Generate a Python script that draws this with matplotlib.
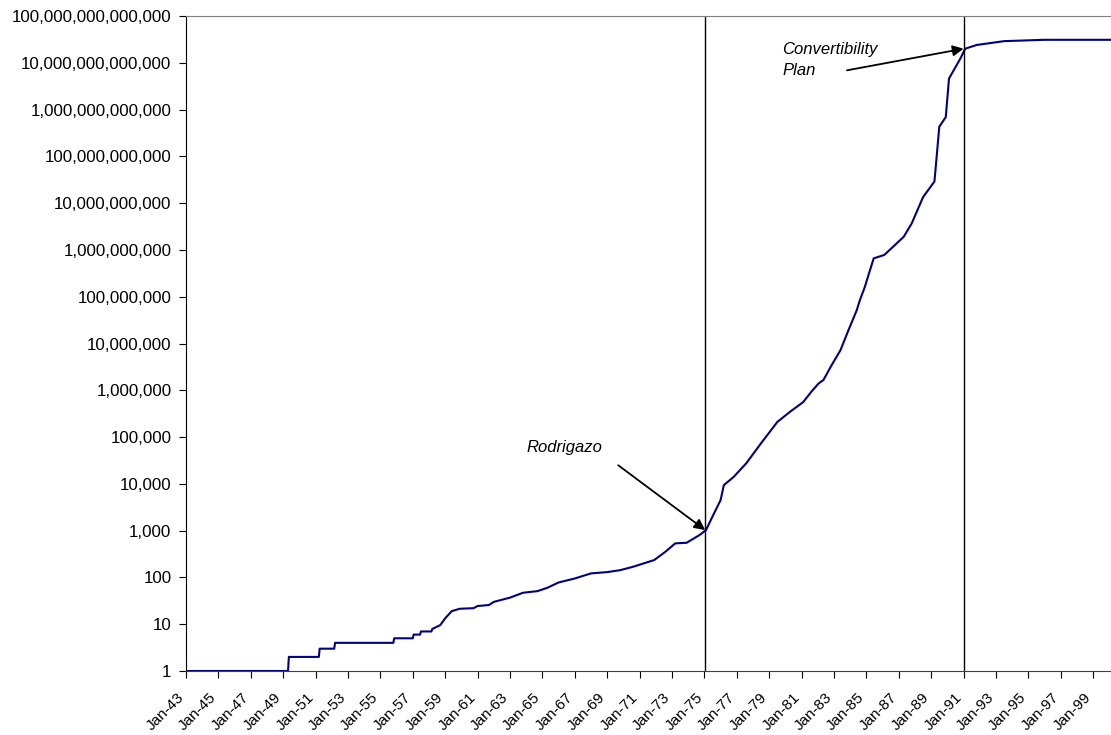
import matplotlib
matplotlib.use("Agg")
import matplotlib.pyplot as plt
from matplotlib.ticker import FixedLocator, FuncFormatter, NullLocator
from matplotlib.transforms import ScaledTranslation

plt.rcParams['font.family'] = ['Liberation Sans', 'DejaVu Sans']

# Price index (decimal year, value)
years = [1943.0, 1949.3, 1949.35, 1951.2, 1951.25, 1952.15, 1952.2, 1955.8, 1955.85,
         1957.0, 1957.05, 1957.45, 1957.5, 1958.15, 1958.2, 1958.7, 1959.0, 1959.4,
         1959.9, 1960.75, 1961.0, 1961.7, 1962.0, 1963.0, 1963.8, 1964.7, 1965.3,
         1966.0, 1967.0, 1968.0, 1969.0, 1969.8, 1970.6, 1971.9, 1972.6, 1973.2,
         1973.9, 1974.7, 1975.1, 1975.5, 1976.0, 1976.2, 1976.8, 1977.6, 1978.5,
         1979.5, 1980.3, 1981.1, 1981.6, 1982.05, 1982.35, 1982.8, 1983.4, 1983.9,
         1984.4, 1984.6, 1984.9, 1985.1, 1985.45, 1986.1, 1987.3,
         1987.8, 1988.5, 1989.2, 1989.3, 1989.5, 1989.9, 1990.1, 1990.8, 1991.1,
         1991.8, 1993.5, 1996.0, 2000.1]
values = [1, 1, 2, 2, 3, 3, 4, 4, 5,
          5, 6, 6, 7, 7, 7.9, 9.6, 13.4, 19,
          21.4, 22, 24.5, 25.7, 30, 37, 47, 51, 60,
          78, 95, 122, 130, 143, 169, 235, 355, 535,
          550, 805, 1030, 2000, 4500, 9400, 14000, 28000, 74000,
          2.1e5, 3.5e5, 5.6e5, 9.3e5, 1.4e6, 1.66e6, 3.2e6, 7.2e6, 1.95e7,
          5.1e7, 8.5e7, 1.6e8, 2.7e8, 6.6e8, 7.8e8, 1.9e9,
          3.7e9, 1.35e10, 2.9e10, 7e10, 4.3e11, 6.9e11, 4.6e12, 1.23e13, 2.0e13,
          2.4e13, 2.9e13, 3.1e13, 3.1e13]

event_years = [1975.05, 1991.0]
tick_years = list(range(1943, 2000, 2))
tick_labels = [f"Jan-{y % 100:02d}" for y in tick_years]
y_ticks = [10 ** k for k in range(0, 15)]

fig = plt.figure(figsize=(11.11, 7.35), dpi=100)
ax = fig.add_axes([186 / 1111, 64 / 735, 925 / 1111, 655 / 735])

ax.plot(years, values, color='#000080', lw=1.5)
for ey in event_years:
    ax.axvline(ey, color='black', lw=1.0)

ax.set_yscale('log')
ax.set_ylim(1, 1e14)
ax.set_xlim(1943.0, 2000.1)
ax.yaxis.set_major_locator(FixedLocator(y_ticks))
ax.yaxis.set_minor_locator(NullLocator())
ax.yaxis.set_major_formatter(FuncFormatter(lambda v, p: f"{int(round(v)):,}"))
ax.set_xticks(tick_years)
ax.set_xticklabels(tick_labels, rotation=45, ha='right', rotation_mode='anchor')
ax.tick_params(axis='y', labelsize=12.2, length=5, direction='out', pad=5.5)
ax.tick_params(axis='x', labelsize=11, length=5, direction='out', pad=6)
offset = ScaledTranslation(-9 / 100, -4 / 100, fig.dpi_scale_trans)
for lab in ax.get_xticklabels():
    lab.set_transform(lab.get_transform() + offset)

ax.spines['right'].set_visible(False)
ax.spines['top'].set_color('#808080')
ax.spines['left'].set_color('black')
ax.spines['bottom'].set_color('#404040')

arrow_style = dict(arrowstyle='-|>', color='black', lw=1.3,
                   mutation_scale=16, shrinkA=0, shrinkB=0)
ax.annotate('', xy=(1975.05, 1030), xytext=(1969.68, 2.5e4), arrowprops=arrow_style)
ax.text(1966.35, 6.1e4, 'Rodrigazo', fontsize=12, style='italic',
        ha='center', va='center')
ax.annotate('', xy=(1991.0, 2.0e13), xytext=(1983.8, 6.9e12), arrowprops=arrow_style)
ax.text(1979.8, 1.15e13, 'Convertibility\nPlan', fontsize=12, style='italic',
        ha='left', va='center', linespacing=1.5)

fig.savefig('out.png', dpi=100)
